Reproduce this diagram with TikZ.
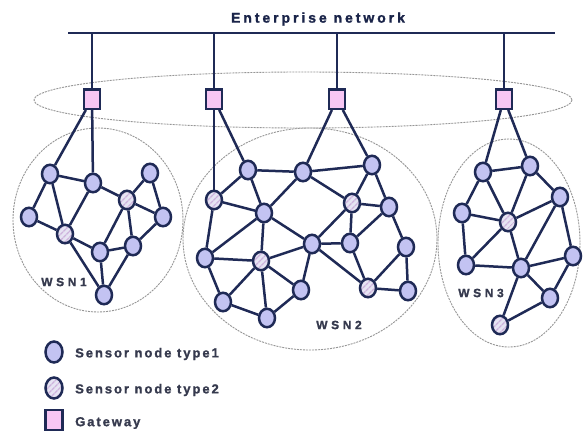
\documentclass[tikz,border=0pt]{standalone}
\usepackage{fontspec}
\setmainfont{Liberation Sans}
\newfontfamily\entfont[LetterSpace=21,FakeBold=1.3]{Liberation Sans Bold}
\newfontfamily\lgfont[LetterSpace=15,FakeBold=1.3]{Liberation Sans Bold}
\newfontfamily\wsnfont[LetterSpace=30,FakeBold=1.3]{Liberation Sans Bold}
\usetikzlibrary{shapes.geometric,patterns.meta}
\definecolor{linecol}{HTML}{1F2A56}
\definecolor{nodefill}{HTML}{C3C3F2}
\definecolor{hatchbase}{HTML}{E6E4F3}
\definecolor{stripe}{HTML}{CDB2DC}
\definecolor{gwfill}{HTML}{F7C6F4}
\definecolor{regioncol}{HTML}{969696}
\definecolor{txtcol}{HTML}{363A4E}
\tikzset{
  sA/.style={ellipse, draw=linecol, line width=2.5pt, fill=nodefill,
    minimum width=16pt, minimum height=18.5pt, inner sep=0pt},
  sB/.style={ellipse, draw=linecol, line width=2.5pt,
    preaction={fill=hatchbase},
    preaction={pattern={Lines[angle=45,distance=4pt,line width=1.5pt]}, pattern color=stripe},
    minimum width=16pt, minimum height=18.5pt, inner sep=0pt},
  gw/.style={rectangle, draw=linecol, line width=2.5pt, fill=gwfill,
    minimum width=16pt, minimum height=19.5pt, inner sep=0pt},
  link/.style={draw=linecol, line width=2.5pt},
  region/.style={draw=regioncol, line width=0.9pt, dash pattern=on 2pt off 1pt},
  lgtext/.style={text=txtcol, font=\lgfont\fontsize{13}{15}\selectfont, anchor=west, inner sep=0pt},
  wsn/.style={text=txtcol, font=\wsnfont\fontsize{12}{14}\selectfont, inner sep=0pt}
}
\begin{document}
\begin{tikzpicture}[x=1pt,y=-1pt]
\useasboundingbox[fill=white] (0,0) rectangle (584,431);

% regions
\draw[region] (303,100) ellipse [x radius=269, y radius=28];
\draw[region] (98,220) ellipse [x radius=85, y radius=92];
\draw[region] (310,239) ellipse [x radius=127, y radius=111];
\draw[region] (509,243) ellipse [x radius=71, y radius=104];

% enterprise bus
\node[text=linecol!85!black, font=\entfont\fontsize{14}{16}\selectfont, inner sep=0pt] (ent) at (318,19) {Enterprise network};
\coordinate (busL) at (68,33);
\coordinate (busR) at (555,33);
\draw[link] (busL) -- (busR);

% gateways
\node[gw] (g1) at (92,99) {};
\node[gw] (g2) at (214,99) {};
\node[gw] (g3) at (337,99) {};
\node[gw] (g4) at (504,99) {};
\foreach \g in {g1,g2,g3,g4} \draw[link] (\g.north) -- (\g.north |- busL);

% WSN1
\node[sA] (a1) at (50,174) {};
\node[sA] (a2) at (93,183) {};
\node[sA] (a3) at (150,173) {};
\node[sB] (a4) at (127,200) {};
\node[sA] (a5) at (29,217) {};
\node[sA] (a6) at (163,217) {};
\node[sB] (a7) at (65,234) {};
\node[sA] (a8) at (100,252) {};
\node[sA] (a9) at (133,246) {};
\node[sA] (a10) at (104,295) {};
\node[wsn] (w1) at (64,282) {WSN1};
\foreach \u/\v in {g1/a1,g1/a2,a1/a2,a1/a5,a1/a7,a2/a4,a2/a7,a5/a7,a7/a8,a7/a10,
  a4/a3,a4/a6,a4/a8,a4/a9,a3/a6,a6/a9,a8/a9,a8/a10,a9/a10}
  \draw[link] (\u) -- (\v);

% WSN2
\node[sA] (b1) at (248,170) {};
\node[sA] (b2) at (303,172) {};
\node[sA] (b3) at (372,165) {};
\node[sB] (b4) at (214,200) {};
\node[sA] (b5) at (264,213) {};
\node[sB] (b6) at (352,203) {};
\node[sA] (b7) at (389,207) {};
\node[sA] (b8) at (205,258) {};
\node[sB] (b9) at (261,261) {};
\node[sA] (b10) at (312,244) {};
\node[sA] (b11) at (350,243) {};
\node[sA] (b12) at (406,247) {};
\node[sA] (b13) at (223,302) {};
\node[sA] (b14) at (267,318) {};
\node[sA] (b15) at (301,290) {};
\node[sB] (b16) at (368,288) {};
\node[sA] (b17) at (408,291) {};
\node[wsn] (w2) at (339,325) {WSN2};
\foreach \u/\v in {g2/b4,g2/b1,g3/b2,g3/b3,b1/b2,b2/b3,b1/b4,b1/b5,b4/b5,b2/b5,
  b2/b6,b3/b6,b3/b7,b6/b7,b6/b10,b6/b11,b7/b11,b7/b12,b10/b11,b5/b10,b5/b8,b5/b9,
  b4/b8,b8/b9,b9/b10,b8/b13,b9/b13,b9/b14,b9/b15,b13/b14,b14/b15,b10/b15,b10/b16,
  b11/b16,b12/b16,b12/b17,b16/b17}
  \draw[link] (\u) -- (\v);

% WSN3
\node[sA] (c1) at (483,172) {};
\node[sA] (c2) at (530,166) {};
\node[sA] (c3) at (560,197) {};
\node[sA] (c4) at (462,213) {};
\node[sB] (c5) at (508,222) {};
\node[sA] (c6) at (466,265) {};
\node[sA] (c7) at (521,268) {};
\node[sA] (c8) at (573,256) {};
\node[sA] (c9) at (550,298) {};
\node[sB] (c10) at (500,325) {};
\node[wsn] (w3) at (481,293) {WSN3};
\foreach \u/\v in {g4/c1,g4/c2,c1/c2,c1/c4,c1/c5,c2/c5,c2/c3,c3/c5,c4/c5,c4/c6,
  c5/c6,c5/c7,c3/c7,c3/c8,c6/c7,c7/c8,c7/c9,c7/c10,c9/c10,c8/c9}
  \draw[link] (\u) -- (\v);

% legend
\node[sA, minimum width=17pt, minimum height=21pt] (L1) at (54,352) {};
\node[sB, minimum width=17pt, minimum height=21pt] (L2) at (54,388) {};
\node[gw, minimum width=17pt, minimum height=20pt] (L3) at (54,420) {};
\node[lgtext] (t1) at (75,354) {Sensor node type1};
\node[lgtext] (t2) at (75,390) {Sensor node type2};
\node[lgtext] (t3) at (75,423) {Gateway};
\end{tikzpicture}
\end{document}
